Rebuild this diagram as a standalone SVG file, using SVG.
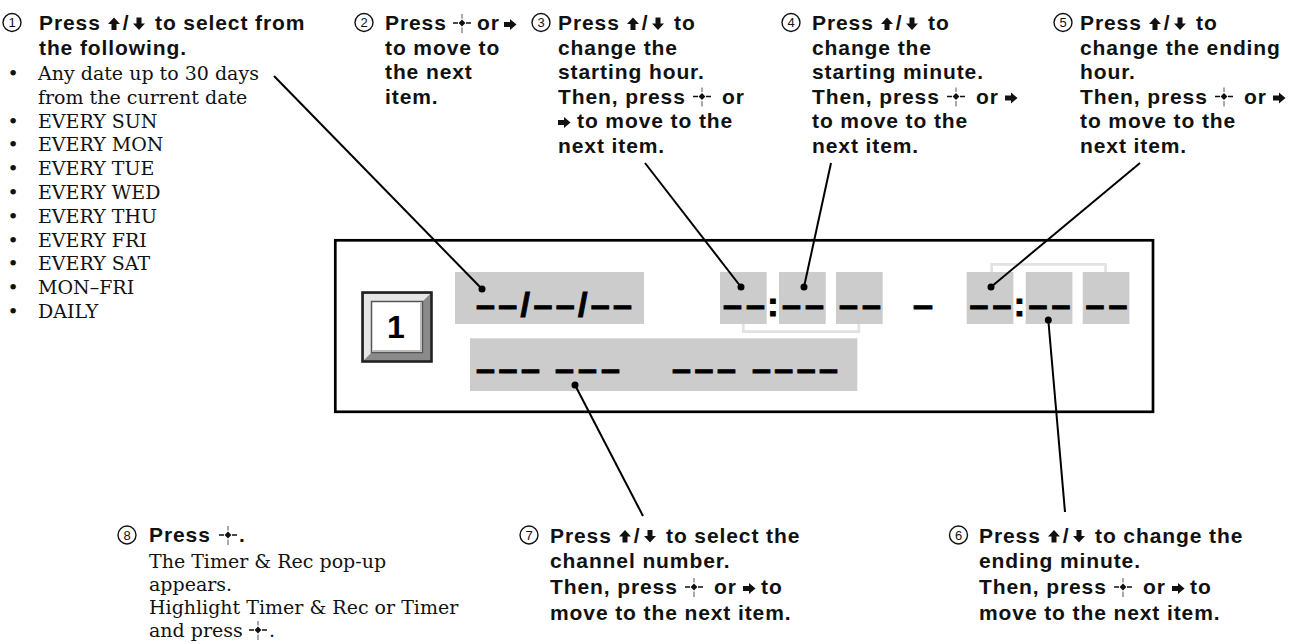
<svg xmlns="http://www.w3.org/2000/svg" width="1290" height="644" viewBox="0 0 1290 644">
<defs>
<style>
.s{font-family:"Liberation Sans",Arial,sans-serif;font-weight:700;font-size:21px;letter-spacing:0.9px;fill:#111}
.r{font-family:"DejaVu Serif","Liberation Serif",serif;font-weight:400;font-size:19px;letter-spacing:0;fill:#111}
.n{font-family:"Liberation Sans",Arial,sans-serif;font-size:13px;fill:#111;text-anchor:middle}
.m{text-anchor:middle}
.cn{fill:#fff;stroke:#111;stroke-width:1.4}
.d{font-family:"Liberation Sans",Arial,sans-serif;font-weight:700;font-size:34px;fill:#000;stroke:#000;stroke-width:1}
.one{font-family:"Liberation Sans",Arial,sans-serif;font-weight:700;font-size:32px;fill:#000;text-anchor:middle}
.fld{fill:#cccccc}
.br{fill:none;stroke:#e2e2e2;stroke-width:2.7}
.ln{stroke:#000;stroke-width:2;fill:none}
.dot{fill:#000}
.ic{fill:#111}
</style>
<g id="ent"><path d="M-9 0H-4M4 0H9" stroke="#111" stroke-width="1.4"/><path d="M0 -9V-4.5M0 4.5V10" stroke="#555" stroke-width="1"/><path d="M0 -3.4L3.4 0L0 3.4L-3.4 0Z" fill="#111"/></g>
<path id="up" d="M-2.5 0V-6H-6L0 -12.5L6 -6H2.5V0Z"/>
<path id="dn" d="M-2.5 -12.5V-6.5H-6L0 0L6 -6.5H2.5V-12.5Z"/>
<path id="rt" d="M-6 -2.5H0V-5.5L6.5 0L0 5.5V2.5H-6Z"/>
</defs>
<rect width="1290" height="644" fill="#fff"/>

<g id="panel">
<rect x="335.3" y="240.3" width="817.7" height="171.5" fill="#fff" stroke="#000" stroke-width="2.7"/>
</g>

<g id="badge">
<rect x="362.5" y="292.5" width="69" height="69" fill="#8a8a8a" stroke="#222" stroke-width="2.6"/>
<polygon points="364,294 430,294 423,301 371,301 371,353 364,360" fill="#e6e6e6"/>
<rect x="371.5" y="301.5" width="51" height="51" fill="#fff" stroke="#555" stroke-width="1.5"/>
<path d="M421 303V351H373" fill="none" stroke="#bbb" stroke-width="2"/>
<text x="396" y="338" class="one">1</text>
</g>

<g id="date-field">
<rect x="455" y="272" width="189" height="52" class="fld"/>
<text x="476" y="316" class="d" textLength="156" lengthAdjust="spacing">––/––/––</text>
</g>

<g id="time-start">
<path class="br" d="M743.3 324V331.7H858.8V324"/>
<rect x="720" y="272" width="46.7" height="52" class="fld"/>
<rect x="779" y="272" width="46.7" height="52" class="fld"/>
<rect x="836" y="272" width="46.7" height="52" class="fld"/>
<text x="723" y="316" class="d" textLength="42" lengthAdjust="spacing">––</text>
<text x="772.8" y="316" class="d m">:</text>
<text x="782" y="316" class="d" textLength="42" lengthAdjust="spacing">––</text>
<text x="839" y="316" class="d" textLength="42" lengthAdjust="spacing">––</text>
</g>

<g id="range-dash">
<text x="913" y="316" class="d" textLength="20" lengthAdjust="spacingAndGlyphs">–</text>
</g>

<g id="time-end">
<path class="br" d="M991.7 272V264.3H1105.5V272"/>
<rect x="966.7" y="272" width="46.7" height="52" class="fld"/>
<rect x="1025.7" y="272" width="46.7" height="52" class="fld"/>
<rect x="1082.7" y="272" width="46.7" height="52" class="fld"/>
<text x="969.5" y="316" class="d" textLength="42" lengthAdjust="spacing">––</text>
<text x="1019.5" y="316" class="d m">:</text>
<text x="1028.5" y="316" class="d" textLength="42" lengthAdjust="spacing">––</text>
<text x="1085.5" y="316" class="d" textLength="42" lengthAdjust="spacing">––</text>
</g>

<g id="channel-field">
<rect x="470" y="338.3" width="387.3" height="52.7" class="fld"/>
<text x="476" y="380" class="d" textLength="64" lengthAdjust="spacing">–––</text>
<text x="555" y="380" class="d" textLength="65" lengthAdjust="spacing">–––</text>
<text x="672" y="380" class="d" textLength="64" lengthAdjust="spacing">–––</text>
<text x="752" y="380" class="d" textLength="86" lengthAdjust="spacing">––––</text>
</g>

<g id="note1">
<circle cx="12" cy="22.5" r="9" class="cn"/><text x="12" y="27" class="n">1</text>
<use href="#up" x="114" y="30" class="ic"/><use href="#dn" x="139" y="30" class="ic"/>
<text class="s"><tspan x="39" y="30">Press</tspan><tspan x="126" y="30" class="m">/</tspan><tspan x="155" y="30">to select from</tspan><tspan x="39" y="54.5">the following.</tspan></text>
<text class="r"><tspan x="13" y="80" class="m">•</tspan><tspan x="38" y="80">Any date up to 30 days</tspan><tspan x="38" y="103.8">from the current date</tspan><tspan x="13" y="127.6" class="m">•</tspan><tspan x="38" y="127.6">EVERY SUN</tspan><tspan x="13" y="151.4" class="m">•</tspan><tspan x="38" y="151.4">EVERY MON</tspan><tspan x="13" y="175.2" class="m">•</tspan><tspan x="38" y="175.2">EVERY TUE</tspan><tspan x="13" y="199" class="m">•</tspan><tspan x="38" y="199">EVERY WED</tspan><tspan x="13" y="222.8" class="m">•</tspan><tspan x="38" y="222.8">EVERY THU</tspan><tspan x="13" y="246.6" class="m">•</tspan><tspan x="38" y="246.6">EVERY FRI</tspan><tspan x="13" y="270.4" class="m">•</tspan><tspan x="38" y="270.4">EVERY SAT</tspan><tspan x="13" y="294.2" class="m">•</tspan><tspan x="38" y="294.2">MON–FRI</tspan><tspan x="13" y="318" class="m">•</tspan><tspan x="38" y="318">DAILY</tspan></text>
</g>

<g id="note2">
<circle cx="364" cy="22.5" r="9" class="cn"/><text x="364" y="27" class="n">2</text>
<use href="#ent" x="462" y="23"/><use href="#rt" x="510" y="24.5" class="ic"/>
<text class="s"><tspan x="385" y="30">Press</tspan><tspan x="477" y="30">or</tspan><tspan x="385" y="54.5">to move to</tspan><tspan x="385" y="79">the next</tspan><tspan x="385" y="103.5">item.</tspan></text>
</g>

<g id="note3">
<circle cx="541" cy="22.5" r="9" class="cn"/><text x="541" y="27" class="n">3</text>
<use href="#up" x="633" y="30" class="ic"/><use href="#dn" x="658" y="30" class="ic"/>
<use href="#ent" x="702" y="96.5"/><use href="#rt" x="564" y="122.5" class="ic"/>
<text class="s"><tspan x="558" y="30">Press</tspan><tspan x="645" y="30" class="m">/</tspan><tspan x="674" y="30">to</tspan><tspan x="558" y="54.5">change the</tspan><tspan x="558" y="79">starting hour.</tspan><tspan x="558" y="103.5">Then, press</tspan><tspan x="722" y="103.5">or</tspan><tspan x="577" y="128">to move to the</tspan><tspan x="558" y="152.5">next item.</tspan></text>
</g>

<g id="note4">
<circle cx="791" cy="22.5" r="9" class="cn"/><text x="791" y="27" class="n">4</text>
<use href="#up" x="887" y="30" class="ic"/><use href="#dn" x="912" y="30" class="ic"/>
<use href="#ent" x="956" y="96.5"/><use href="#rt" x="1011" y="98" class="ic"/>
<text class="s"><tspan x="812" y="30">Press</tspan><tspan x="899" y="30" class="m">/</tspan><tspan x="928" y="30">to</tspan><tspan x="812" y="54.5">change the</tspan><tspan x="812" y="79">starting minute.</tspan><tspan x="812" y="103.5">Then, press</tspan><tspan x="976" y="103.5">or</tspan><tspan x="812" y="128">to move to the</tspan><tspan x="812" y="152.5">next item.</tspan></text>
</g>

<g id="note5">
<circle cx="1063" cy="22.5" r="9" class="cn"/><text x="1063" y="27" class="n">5</text>
<use href="#up" x="1155" y="30" class="ic"/><use href="#dn" x="1180" y="30" class="ic"/>
<use href="#ent" x="1224" y="96.5"/><use href="#rt" x="1279" y="98" class="ic"/>
<text class="s"><tspan x="1080" y="30">Press</tspan><tspan x="1167" y="30" class="m">/</tspan><tspan x="1196" y="30">to</tspan><tspan x="1080" y="54.5">change the ending</tspan><tspan x="1080" y="79">hour.</tspan><tspan x="1080" y="103.5">Then, press</tspan><tspan x="1244" y="103.5">or</tspan><tspan x="1080" y="128">to move to the</tspan><tspan x="1080" y="152.5">next item.</tspan></text>
</g>

<g id="note6">
<circle cx="958.5" cy="535" r="9" class="cn"/><text x="958.5" y="539.5" class="n">6</text>
<use href="#up" x="1054" y="542.5" class="ic"/><use href="#dn" x="1079" y="542.5" class="ic"/>
<use href="#ent" x="1123" y="587"/><use href="#rt" x="1178" y="588.5" class="ic"/>
<text class="s"><tspan x="979" y="542.5">Press</tspan><tspan x="1066" y="542.5" class="m">/</tspan><tspan x="1095" y="542.5">to change the</tspan><tspan x="979" y="568">ending minute.</tspan><tspan x="979" y="594">Then, press</tspan><tspan x="1143" y="594">or</tspan><tspan x="1190" y="594">to</tspan><tspan x="979" y="619.5">move to the next item.</tspan></text>
</g>

<g id="note7">
<circle cx="529" cy="535" r="9" class="cn"/><text x="529" y="539.5" class="n">7</text>
<use href="#up" x="625" y="542.5" class="ic"/><use href="#dn" x="650" y="542.5" class="ic"/>
<use href="#ent" x="694" y="587"/><use href="#rt" x="749" y="588.5" class="ic"/>
<text class="s"><tspan x="550" y="542.5">Press</tspan><tspan x="637" y="542.5" class="m">/</tspan><tspan x="666" y="542.5">to select the</tspan><tspan x="550" y="568">channel number.</tspan><tspan x="550" y="594">Then, press</tspan><tspan x="714" y="594">or</tspan><tspan x="761" y="594">to</tspan><tspan x="550" y="619.5">move to the next item.</tspan></text>
</g>

<g id="note8">
<circle cx="127" cy="535" r="9" class="cn"/><text x="127" y="539.5" class="n">8</text>
<use href="#ent" x="228" y="535"/><use href="#ent" x="258" y="630"/>
<text class="r"><tspan x="149" y="542" class="s">Press</tspan><tspan x="239" y="542" class="s">.</tspan><tspan x="149" y="568">The Timer &amp; Rec pop-up</tspan><tspan x="149" y="591">appears.</tspan><tspan x="149" y="614">Highlight Timer &amp; Rec or Timer</tspan><tspan x="149" y="637">and press</tspan><tspan x="269" y="637">.</tspan></text>
</g>

<g id="connectors">
<line class="ln" x1="274" y1="76" x2="482" y2="289"/>
<line class="ln" x1="645" y1="163" x2="741" y2="287"/>
<line class="ln" x1="831" y1="163" x2="804" y2="287"/>
<line class="ln" x1="1140" y1="163" x2="991" y2="287"/>
<line class="ln" x1="1048.3" y1="320" x2="1065" y2="512"/>
<line class="ln" x1="575" y1="385" x2="643" y2="516"/>
<circle class="dot" cx="482" cy="289" r="3.5"/>
<circle class="dot" cx="741" cy="287" r="3.5"/>
<circle class="dot" cx="804" cy="287" r="3.5"/>
<circle class="dot" cx="991" cy="287" r="3.5"/>
<circle class="dot" cx="1048.3" cy="320" r="3.5"/>
<circle class="dot" cx="575" cy="385" r="3.5"/>
</g>
</svg>
